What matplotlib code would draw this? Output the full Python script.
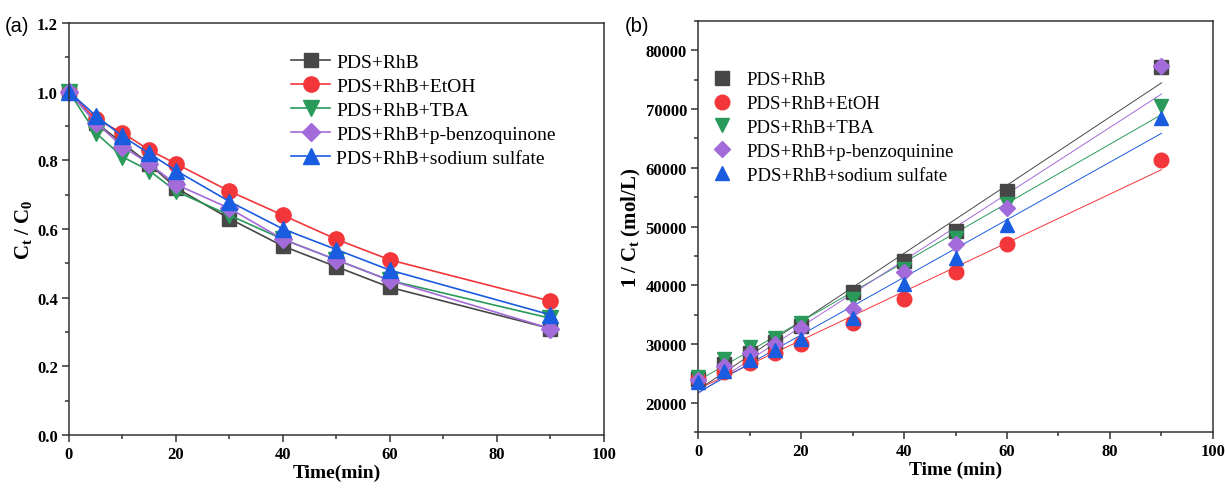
import numpy as np
import matplotlib
matplotlib.use("Agg")
import matplotlib.pyplot as plt
from matplotlib.ticker import MultipleLocator

plt.rcParams.update({
    "font.family": "Liberation Serif",
    "mathtext.fontset": "custom",
    "mathtext.rm": "Liberation Serif",
    "mathtext.bf": "Liberation Serif:bold",
    "mathtext.it": "Liberation Serif:italic",
    "axes.linewidth": 1.1,
    "axes.edgecolor": "#333333",
})

# ---- data ----
time_min = [0, 5, 10, 15, 20, 30, 40, 50, 60, 90]
series_labels_a = ["PDS+RhB", "PDS+RhB+EtOH", "PDS+RhB+TBA",
                   "PDS+RhB+p-benzoquinone", "PDS+RhB+sodium sulfate"]
series_labels_b = ["PDS+RhB", "PDS+RhB+EtOH", "PDS+RhB+TBA",
                   "PDS+RhB+p-benzoquinine", "PDS+RhB+sodium sulfate"]

# (a) Ct/C0
ratio_pds = [1.00, 0.91, 0.85, 0.79, 0.72, 0.63, 0.55, 0.49, 0.43, 0.31]
ratio_etoh = [1.00, 0.92, 0.88, 0.83, 0.79, 0.71, 0.64, 0.57, 0.51, 0.39]
ratio_tba = [1.00, 0.88, 0.81, 0.77, 0.71, 0.64, 0.57, 0.51, 0.45, 0.34]
ratio_bq = [1.00, 0.91, 0.84, 0.79, 0.73, 0.66, 0.57, 0.51, 0.45, 0.31]
ratio_ss = [1.00, 0.93, 0.87, 0.82, 0.77, 0.68, 0.60, 0.54, 0.48, 0.35]

# (b) 1/Ct (mol/L)
inv_pds = [24000, 26500, 28500, 30300, 33000, 38800, 44200, 49300, 56000, 77200]
inv_etoh = [24000, 25200, 26700, 28400, 30000, 33600, 37600, 42200, 47000, 61400]
inv_tba = [24300, 27400, 29500, 31000, 33600, 37700, 42800, 48000, 53800, 70500]
inv_bq = [23800, 26300, 28500, 30000, 32700, 36000, 42200, 47000, 53200, 77300]
inv_ss = [23600, 25450, 27200, 28900, 30850, 34500, 40200, 44700, 50300, 68500]

colors = ["#474747", "#f2363a", "#2a9a5a", "#a36ad9", "#1a5ce0"]
markers = ["s", "o", "v", "D", "^"]
msizes = [10, 11, 11, 9, 11]

fig = plt.figure(figsize=(12.25, 4.89), dpi=100)
ax1 = fig.add_axes([0.0563, 0.1084, 0.4367, 0.8426])
ax2 = fig.add_axes([0.5698, 0.1145, 0.4204, 0.8405])

# ---- panel (a) ----
ratios = [ratio_pds, ratio_etoh, ratio_tba, ratio_bq, ratio_ss]
for y, lab, c, m, ms in zip(ratios, series_labels_a, colors, markers, msizes):
    ax1.plot(time_min, y, color=c, marker=m, markersize=ms, linewidth=1.2,
             label=lab, clip_on=False)
ax1.set_xlim(0, 100)
ax1.set_ylim(0, 1.2)
ax1.xaxis.set_major_locator(MultipleLocator(20))
ax1.xaxis.set_minor_locator(MultipleLocator(10))
ax1.yaxis.set_major_locator(MultipleLocator(0.2))
ax1.yaxis.set_minor_locator(MultipleLocator(0.1))
ax1.set_xlabel("Time(min)", fontsize=14, fontweight="bold", labelpad=1)
ax1.set_ylabel(r"$\mathbf{C_t\ /\ C_0}$", fontsize=15, labelpad=2)
ax1.legend(loc="upper left", bbox_to_anchor=(0.39, 0.96), frameon=False,
           fontsize=14, handlelength=2.0, handletextpad=0.3,
           labelspacing=0.33, borderpad=0.2)

# ---- panel (b) ----
invs = [inv_pds, inv_etoh, inv_tba, inv_bq, inv_ss]
t = np.array(time_min, dtype=float)
for y, lab, c, m, ms in zip(invs, series_labels_b, colors, markers, msizes):
    ax2.plot(t, y, linestyle="none", color=c, marker=m, markersize=ms - 0.5,
             label=lab, clip_on=False, zorder=3)
    k, b = np.polyfit(t, y, 1)
    ax2.plot([0, 90], [b, k * 90 + b], color=c, linewidth=0.7, zorder=2)
ax2.set_xlim(0, 100)
ax2.set_ylim(15000, 85000)
ax2.xaxis.set_major_locator(MultipleLocator(20))
ax2.xaxis.set_minor_locator(MultipleLocator(10))
ax2.yaxis.set_major_locator(MultipleLocator(10000))
ax2.yaxis.set_minor_locator(MultipleLocator(5000))
ax2.set_xlabel("Time (min)", fontsize=14, fontweight="bold", labelpad=1)
ax2.set_ylabel(r"$\mathbf{1\ /\ C_t\ (mol/L)}$", fontsize=15, labelpad=2)
ax2.legend(loc="upper left", bbox_to_anchor=(0.0, 0.91), frameon=False,
           fontsize=13.5, handlelength=1.2, handletextpad=0.7,
           labelspacing=0.36, borderpad=0.2)

for ax in (ax1, ax2):
    ax.tick_params(which="both", direction="out", top=False, right=False,
                   width=1.1, color="#333333")
    ax.tick_params(which="major", length=5, labelsize=12, pad=3)
    ax.tick_params(which="minor", length=3)
    for lbl in ax.get_xticklabels() + ax.get_yticklabels():
        lbl.set_fontweight("bold")

fig.text(0.004, 0.945, "(a)", fontsize=14.5, family="Liberation Sans", va="center")
fig.text(0.510, 0.945, "(b)", fontsize=14.5, family="Liberation Sans", va="center")

fig.savefig("out.png", dpi=100)
